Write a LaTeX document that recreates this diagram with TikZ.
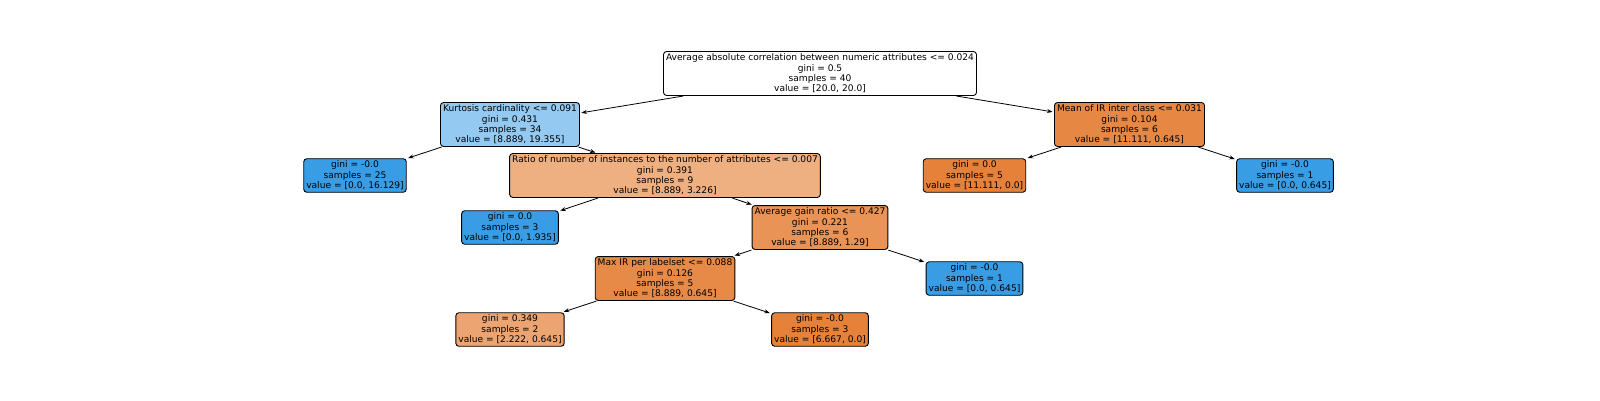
\documentclass[tikz,border=0pt]{standalone}
\usepackage{fontspec}
\setmainfont{DejaVu Sans}
\usetikzlibrary{arrows.meta}
\definecolor{leafblue}{HTML}{399DE5}
\definecolor{leaforange}{HTML}{E58139}
\definecolor{cKurt}{HTML}{94CAF1}
\definecolor{cRatio}{HTML}{EEAF81}
\definecolor{cMeanIR}{HTML}{E68844}
\definecolor{cGain}{HTML}{E99356}
\definecolor{cMaxIR}{HTML}{E78A48}
\definecolor{cLeafTwo}{HTML}{ECA572}
\tikzset{
  treenode/.style={draw=black, line width=0.9pt, rounded corners=3pt, align=center,
    inner xsep=2.5pt, inner ysep=2.3pt, font=\fontsize{9.1}{10.4}\selectfont},
  edge/.style={-{Stealth[length=5.5pt,width=4pt]}, line width=0.8pt, shorten >=1.5pt, shorten <=0.5pt}
}
\begin{document}
\begin{tikzpicture}[x=1pt,y=-1pt]
\useasboundingbox (0,0) rectangle (1600,400);
\node[treenode, fill=white] (root) at (820,73.5) {Average absolute correlation between numeric attributes <= 0.024\\gini = 0.5\\samples = 40\\value = [20.0, 20.0]};
\node[treenode, fill=cKurt] (kurt) at (510,124.5) {Kurtosis cardinality <= 0.091\\gini = 0.431\\samples = 34\\value = [8.889, 19.355]};
\node[treenode, fill=leafblue] (l25) at (355,175.5) {gini = -0.0\\samples = 25\\value = [0.0, 16.129]};
\node[treenode, fill=cRatio] (ratio) at (665,175.5) {Ratio of number of instances to the number of attributes <= 0.007\\gini = 0.391\\samples = 9\\value = [8.889, 3.226]};
\node[treenode, fill=leafblue] (l3) at (510,227.5) {gini = 0.0\\samples = 3\\value = [0.0, 1.935]};
\node[treenode, fill=cGain] (gain) at (820,227.5) {Average gain ratio <= 0.427\\gini = 0.221\\samples = 6\\value = [8.889, 1.29]};
\node[treenode, fill=cMaxIR] (maxir) at (665,278.5) {Max IR per labelset <= 0.088\\gini = 0.126\\samples = 5\\value = [8.889, 0.645]};
\node[treenode, fill=leafblue] (lg1) at (974.5,278.5) {gini = -0.0\\samples = 1\\value = [0.0, 0.645]};
\node[treenode, fill=cLeafTwo] (l2) at (510,329.5) {gini = 0.349\\samples = 2\\value = [2.222, 0.645]};
\node[treenode, fill=leaforange] (l3b) at (820,329.5) {gini = -0.0\\samples = 3\\value = [6.667, 0.0]};
\node[treenode, fill=cMeanIR] (meanir) at (1129.5,124.5) {Mean of IR inter class <= 0.031\\gini = 0.104\\samples = 6\\value = [11.111, 0.645]};
\node[treenode, fill=leaforange] (l5) at (974.5,175.5) {gini = 0.0\\samples = 5\\value = [11.111, 0.0]};
\node[treenode, fill=leafblue] (l1) at (1285,175.5) {gini = -0.0\\samples = 1\\value = [0.0, 0.645]};
\draw[edge] (root) -- (kurt);
\draw[edge] (root) -- (meanir);
\draw[edge] (kurt) -- (l25);
\draw[edge] (kurt) -- (ratio);
\draw[edge] (ratio) -- (l3);
\draw[edge] (ratio) -- (gain);
\draw[edge] (gain) -- (maxir);
\draw[edge] (gain) -- (lg1);
\draw[edge] (maxir) -- (l2);
\draw[edge] (maxir) -- (l3b);
\draw[edge] (meanir) -- (l5);
\draw[edge] (meanir) -- (l1);
\end{tikzpicture}
\end{document}
